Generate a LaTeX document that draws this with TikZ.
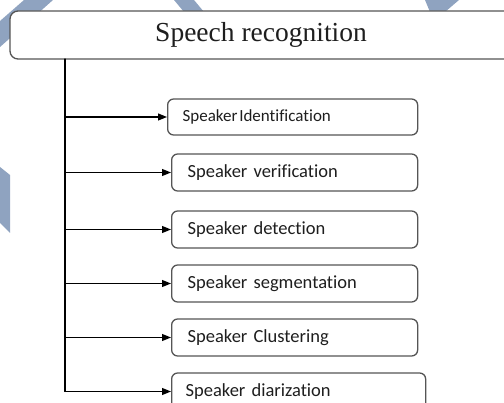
\documentclass[tikz,border=0pt]{standalone}
\usepackage{fontspec}
\setmainfont[Ligatures=NoCommon, WordSpace=0.8]{Carlito}
\newfontfamily\titlefont{Liberation Serif}
\usetikzlibrary{arrows.meta}
\definecolor{wmblue}{RGB}{143,163,192}
\definecolor{boxgray}{RGB}{85,85,85}
\definecolor{txt}{RGB}{30,30,30}
\begin{document}
\begin{tikzpicture}[x=1pt, y=-1pt, line join=round, line cap=round, >={Triangle[length=9pt,width=7pt]},
  item/.style={draw=boxgray, line width=1.3pt, rounded corners=6pt, fill=white, anchor=west,
    minimum height=37pt, inner xsep=16pt, align=left, text=txt, font=\fontsize{18.5}{20}\selectfont},
  headbox/.style={draw=boxgray, line width=1.3pt, rounded corners=8pt, fill=white,
    minimum width=502pt, minimum height=48pt, text=txt, font=\titlefont\fontsize{27.5}{30}\selectfont}]
\useasboundingbox (0,0) rectangle (504,403);
\clip (0,0) rectangle (504,403);
% watermark
\fill[wmblue] (24,0)--(53,0)--(0,47)--(0,21)--cycle;
\fill[wmblue] (174,0)--(194,0)--(204,12)--(184,12)--cycle;
\fill[wmblue] (425,0)--(459,0)--(445,12)--(430,12)--cycle;
\fill[wmblue] (0,167)--(10,175)--(10,233)--(0,223)--cycle;
% boxes
\node[headbox] (sr) at (261,35) {Speech recognition};
\node[item, minimum height=36pt, inner xsep=15pt, text width=220pt, font=\fontsize{17}{19}\selectfont] (s1) at (167,117) {Speaker\hspace{0.1em}Identification};
\node[item, text width=214pt] (s2) at (171,172.5) {Speaker verification};
\node[item, text width=214pt] (s3) at (171,229.5) {Speaker detection};
\node[item, text width=214pt] (s4) at (171,283.5) {Speaker segmentation};
\node[item, text width=214pt] (s5) at (171,337.5) {Speaker Clustering};
\node[item, text width=226pt, inner xsep=14pt] (s6) at (171,391.5) {Speaker diarization};
% connectors
\coordinate (tr) at (65,59);
\draw[line width=1.2pt] (tr)--(tr |- s6.west);
\foreach \i in {1,...,6}
  \draw[->, line width=1.1pt] (tr |- s\i.west)--(s\i.west);
\end{tikzpicture}
\end{document}
